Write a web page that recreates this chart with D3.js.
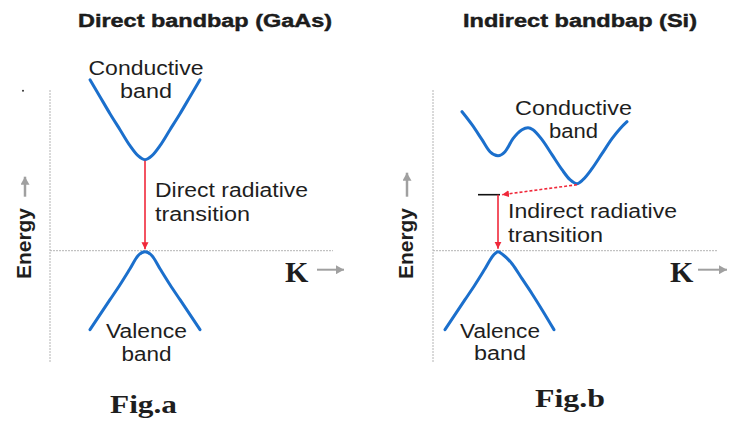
<!DOCTYPE html>
<html>
<head>
<meta charset="utf-8">
<script src="https://cdn.jsdelivr.net/npm/d3@7"></script>
<style>
  body { margin: 0; background: #fff; }
  text { font-family: 'Liberation Sans', Arial, sans-serif; fill: #1e1e1e; }
</style>
</head>
<body>
<div id="chart"></div>
<script>
// band shapes, [k, energy], 1 unit ~ 10px
const gaasConduction = [[4.0, 17.1], [5.0, 15.4], [6.0, 13.7], [7.0, 12.1], [8.0, 10.5], [8.8, 9.5], [9.5, 9.1],
  [10.2, 9.5], [11.0, 10.5], [12.0, 12.1], [13.0, 13.7], [14.0, 15.4], [15.0, 17.1]]
const gaasValence = [[4.0, -7.9], [5.0, -6.4], [6.0, -4.9], [7.0, -3.4], [8.0, -1.8], [8.8, -0.5], [9.5, -0.1],
  [10.2, -0.5], [11.0, -1.8], [12.0, -3.4], [13.0, -4.9], [14.0, -6.4], [15.0, -7.9]]
const siConduction = [[2.9, 13.9], [3.9, 12.6], [4.9, 11.1], [5.7, 9.9], [6.5, 9.5], [7.2, 9.9], [8.0, 11.2],
  [8.9, 12.1], [9.5, 12.3], [10.0, 12.1], [10.9, 11.1], [11.9, 9.6], [12.9, 8.1], [13.7, 7.1], [14.4, 6.7],
  [15.0, 7.1], [15.9, 8.2], [16.9, 9.7], [17.9, 11.2], [18.7, 12.2], [19.4, 12.9]]
const siValence = [[1.2, -7.9], [2.2, -6.4], [3.2, -4.9], [4.2, -3.4], [5.2, -1.8], [6.0, -0.5], [6.5, -0.1],
  [7.0, -0.4], [7.9, -1.3], [8.9, -2.8], [9.9, -4.3], [10.9, -5.9], [12.1, -7.9]]

// transitions
const gaasTransition = [[9.5, 9.0], [9.5, 0.15]]
const siPhonon = [[14.4, 6.6], [6.9, 5.6]]
const siLevel = [[4.5, 5.6], [6.7, 5.6]]
const siTransition = [[6.5, 5.6], [6.5, 0.2]]

// text
const titles = ['Direct bandbap (GaAs)', 'Indirect bandbap (Si)']
const captions = ['Fig.a', 'Fig.b']
const conductionNames = ['Conductive', 'band']
const valenceNames = ['Valence', 'band']
const transitionNames = [['Direct radiative', 'transition'], ['Indirect radiative', 'transition']]
const energyName = 'Energy'
const kName = 'K'

const width = 729
const height = 421

const svg = d3
  .select('#chart')
  .append('svg')
  .attr('width', width)
  .attr('height', height)

const defs = svg.append('defs')
defs
  .append('marker')
  .attr('id', 'red-head')
  .attr('markerUnits', 'userSpaceOnUse')
  .attr('markerWidth', 8)
  .attr('markerHeight', 8)
  .attr('refX', 7)
  .attr('refY', 3.5)
  .attr('orient', 'auto')
  .append('path')
  .attr('d', 'M0,0 L7,3.5 L0,7 Z')
  .attr('fill', '#f0283a')
defs
  .append('marker')
  .attr('id', 'gray-head')
  .attr('markerUnits', 'userSpaceOnUse')
  .attr('markerWidth', 9)
  .attr('markerHeight', 9)
  .attr('refX', 8)
  .attr('refY', 4.5)
  .attr('orient', 'auto')
  .append('path')
  .attr('d', 'M0,0 L8,4.5 L0,9 Z')
  .attr('fill', '#a0a0a0')

// energy scale is shared, axis line at E = 0 sits on y = 250.7
const y = d3.scaleLinear().domain([-11.13, 16.07]).range([362, 90])

const panels = [
  {
    x: d3.scaleLinear().domain([0, 28.3]).range([50, 333]),
    kMax: 28.3,
    conduction: gaasConduction,
    valence: gaasValence,
    title: titles[0], titleX: 205, titleW: 254,
    caption: captions[0], captionX: 110, captionY: 413, captionW: 67,
    cond: { k: 9.6, e: [17.6, 15.3], w: [115, 52] },
    val: { k: 9.65, e: [-8.7, -11.0], w: [81, 50] },
    trans: { k: 10.5, e: [5.4, 3.0], w: [153, 95], names: transitionNames[0] },
    up: [[-2.5, 5.4], [-2.5, 7.4]],
    energyK: -1.9,
    kLabel: 23.5,
    kArrow: [[26.7, -1.9], [29.4, -1.9]]
  },
  {
    x: d3.scaleLinear().domain([0, 28.4]).range([433, 717]),
    kMax: 28.4,
    conduction: siConduction,
    valence: siValence,
    title: titles[1], titleX: 580, titleW: 234,
    caption: captions[1], captionX: 535, captionY: 407, captionW: 70,
    cond: { k: 14.05, e: [13.6, 11.3], w: [117, 49] },
    val: { k: 6.7, e: [-8.7, -10.9], w: [80, 52] },
    trans: { k: 7.5, e: [3.3, 0.9], w: [169, 95], names: transitionNames[1] },
    up: [[-2.6, 5.4], [-2.6, 7.8]],
    energyK: -2.0,
    kLabel: 23.7,
    kArrow: [[26.5, -1.9], [29.4, -1.9]]
  }
]

panels.forEach(p => {
  const g = svg.append('g')
  const x = p.x
  const band = d3
    .line()
    .x(d => x(d[0]))
    .y(d => y(d[1]))
    .curve(d3.curveMonotoneX)
  const straight = d3
    .line()
    .x(d => x(d[0]))
    .y(d => y(d[1]))

  // axes
  g.append('line')
    .attr('x1', x(0)).attr('x2', x(0))
    .attr('y1', y(-11.13)).attr('y2', y(16.07))
    .attr('stroke', '#b4b4b4')
    .attr('stroke-dasharray', '2,1')
  g.append('line')
    .attr('x1', x(0)).attr('x2', x(p.kMax))
    .attr('y1', y(0)).attr('y2', y(0))
    .attr('stroke', '#b4b4b4')
    .attr('stroke-dasharray', '2,1')

  // bands
  g.selectAll('.band')
    .data([p.conduction, p.valence])
    .enter()
    .append('path')
    .attr('class', 'band')
    .attr('d', band)
    .attr('fill', 'none')
    .attr('stroke', '#1b6fcc')
    .attr('stroke-width', 3)
    .attr('stroke-linecap', 'round')

  // gray arrows
  g.append('path')
    .attr('d', straight(p.up))
    .attr('stroke', '#a0a0a0')
    .attr('stroke-width', 2.5)
    .attr('marker-end', 'url(#gray-head)')
  g.append('path')
    .attr('d', straight(p.kArrow))
    .attr('stroke', '#a0a0a0')
    .attr('stroke-width', 2)
    .attr('marker-end', 'url(#gray-head)')

  // labels
  g.append('text')
    .attr('x', p.titleX).attr('y', 27)
    .attr('text-anchor', 'middle')
    .attr('font-weight', 'bold')
    .attr('font-size', 18)
    .attr('fill', '#111')
    .attr('stroke', '#111')
    .attr('stroke-width', 0.4)
    .attr('textLength', p.titleW)
    .attr('lengthAdjust', 'spacingAndGlyphs')
    .text(p.title)
  g.append('text')
    .attr('x', p.captionX).attr('y', p.captionY)
    .attr('font-weight', 'bold')
    .attr('font-size', 25)
    .attr('fill', '#111')
    .attr('textLength', p.captionW)
    .attr('lengthAdjust', 'spacingAndGlyphs')
    .style('font-family', "'Liberation Serif', 'DejaVu Serif', serif")
    .text(p.caption)
  g.append('text')
    .attr('x', x(p.kLabel)).attr('y', y(-3.1))
    .attr('font-weight', 'bold')
    .attr('font-size', 30)
    .attr('fill', '#111')
    .style('font-family', "'Liberation Serif', 'DejaVu Serif', serif")
    .text(kName)
  g.append('text')
    .attr('transform', `translate(${x(p.energyK)},${y(0.72)}) rotate(-90)`)
    .attr('text-anchor', 'middle')
    .attr('font-weight', 'bold')
    .attr('font-size', 20)
    .attr('fill', '#111')
    .attr('textLength', 71)
    .attr('lengthAdjust', 'spacingAndGlyphs')
    .text(energyName)

  const twoLines = (names, spec, anchor) => {
    names.forEach((t, i) => {
      g.append('text')
        .attr('x', x(spec.k)).attr('y', y(spec.e[i]))
        .attr('text-anchor', anchor)
        .attr('font-size', 20)
        .attr('textLength', spec.w[i])
        .attr('lengthAdjust', 'spacingAndGlyphs')
        .text(t)
    })
  }
  twoLines(conductionNames, p.cond, 'middle')
  twoLines(valenceNames, p.val, 'middle')
  twoLines(p.trans.names, p.trans, 'start')
})

// transition arrows
const gx = panels[0].x
const sx = panels[1].x
const red = d3.line().x(d => d[0]).y(d => d[1])

svg.append('path')
  .attr('d', red(gaasTransition.map(d => [gx(d[0]), y(d[1])])))
  .attr('stroke', '#f0283a')
  .attr('stroke-width', 1.6)
  .attr('marker-end', 'url(#red-head)')

svg.append('path')
  .attr('d', red(siLevel.map(d => [sx(d[0]), y(d[1])])))
  .attr('stroke', '#111')
  .attr('stroke-width', 1.6)
svg.append('path')
  .attr('d', red(siTransition.map(d => [sx(d[0]), y(d[1])])))
  .attr('stroke', '#f0283a')
  .attr('stroke-width', 1.6)
  .attr('marker-end', 'url(#red-head)')
svg.append('path')
  .attr('d', red(siPhonon.map(d => [sx(d[0]), y(d[1])])))
  .attr('stroke', '#f0283a')
  .attr('stroke-width', 1.6)
  .attr('stroke-dasharray', '3,2')
  .attr('marker-end', 'url(#red-head)')

// small speck at the top left of the picture
svg.append('circle')
  .attr('cx', gx(-2.7)).attr('cy', y(16.0))
  .attr('r', 1)
  .attr('fill', '#333')
</script>
</body>
</html>
